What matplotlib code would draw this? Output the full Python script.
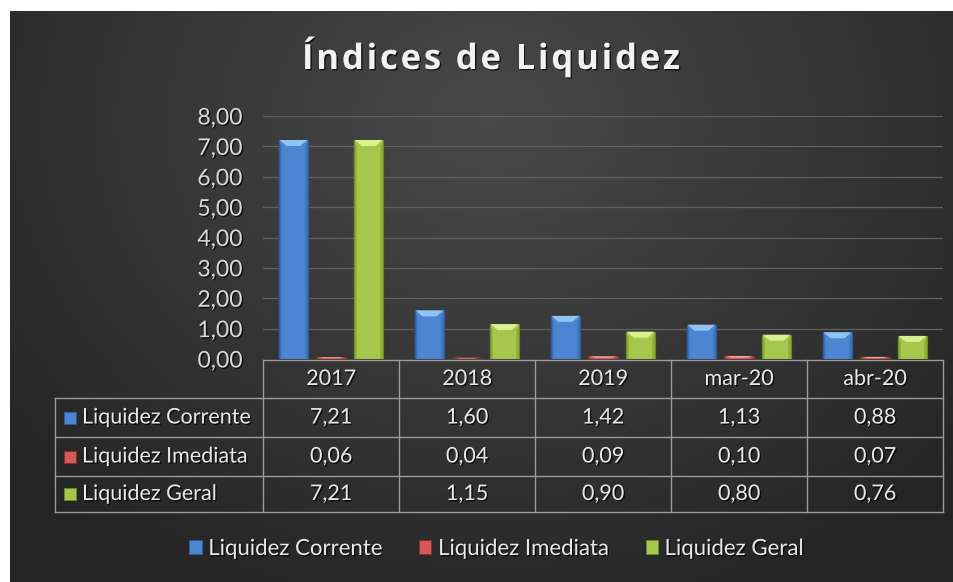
import numpy as np
import matplotlib.pyplot as plt
from matplotlib.patches import Patch, Rectangle, Polygon
from matplotlib.lines import Line2D
from matplotlib.transforms import IdentityTransform
from matplotlib.font_manager import FontProperties, findfont, get_font
import matplotlib.patheffects as pe

# dados do gráfico
periodos = ['2017', '2018', '2019', 'mar-20', 'abr-20']
series = ['Liquidez Corrente', 'Liquidez Imediata', 'Liquidez Geral']
liq_corrente = [7.21, 1.60, 1.42, 1.13, 0.88]
liq_imediata = [0.06, 0.04, 0.09, 0.10, 0.07]
liq_geral = [7.21, 1.15, 0.90, 0.80, 0.76]
yticks = [0, 1, 2, 3, 4, 5, 6, 7, 8]
titulo = 'Índices de Liquidez'

cores = ['#4d85d2', '#d45a58', '#a5c84c']
bordas = ['#2f5e9e', '#8e2a28', '#6f8c27']
brilho = ['#92c4f2', '#f0a0a0', '#d8f090']
valores = [liq_corrente, liq_imediata, liq_geral]

plt.rcParams['font.family'] = ['Lato', 'DejaVu Sans']

W, H = 954, 582
fig = plt.figure(figsize=(W / 100, H / 100), dpi=100, facecolor='white')

def fx(px):
    return px / W

def fy(py):
    return 1 - py / H

# fundo escuro com gradiente radial
bg = fig.add_axes([fx(10), 0, 1 - fx(10), fy(11)])
bg.set_axis_off()
yy, xx = np.mgrid[0:571, 0:944]
d = np.sqrt(((xx - 480) / 620.0) ** 2 + ((yy - 110) / 520.0) ** 2)
d = np.clip(d, 0, 1)
grad = 0.285 - 0.14 * d
bg.imshow(np.dstack([grad, grad, grad]), aspect='auto', interpolation='bilinear')

sombra = [pe.withSimplePatchShadow(offset=(1, -1), shadow_rgbFace='black', alpha=0.7)]

# título com espaçamento entre letras
tam_titulo = 25
fp = FontProperties(family='Open Sans', weight='bold', size=tam_titulo)
ft = get_font(findfont(fp))
ft.set_size(tam_titulo, 100)
avancos = []
for ch in titulo:
    g = ft.load_char(ord(ch))
    avancos.append(g.linearHoriAdvance / 65536)
largura_alvo = 378
esp = (largura_alvo - sum(avancos)) / (len(titulo) - 1)
px = 491 - largura_alvo / 2
for ch, a in zip(titulo, avancos):
    fig.text(fx(px), fy(60), ch, color='#f2f2f2', fontproperties=fp,
             ha='left', va='center', path_effects=sombra)
    px += a + esp

# área do gráfico
ax = fig.add_axes([fx(263), fy(359), fx(943) - fx(263), fy(116) - fy(359)])
ax.patch.set_alpha(0)
x = np.arange(len(periodos))
larg = 0.22
desloc = [-0.276, 0, 0.276]
ax.set_xlim(-0.5, len(periodos) - 0.5)
ax.set_ylim(0, 8)
grupos = []
for vals, c, b, dx in zip(valores, cores, bordas, desloc):
    grupos.append(ax.bar(x + dx, vals, larg, color=c, edgecolor=b, linewidth=0.8, zorder=3))

# bisel das barras (efeito 3D do Excel)
for barras, br, b in zip(grupos, brilho, bordas):
    for r in barras:
        (x0, y0), (x1, y1) = ax.transData.transform(
            [(r.get_x(), 0), (r.get_x() + r.get_width(), r.get_height())])
        h = y1 - y0
        bw = min(8, (x1 - x0) / 2 - 1)
        bh = min(6, h * 0.6)
        ax.add_patch(Polygon([(x0 + 1, y1), (x1 - 1, y1), (x1 - bw, y1 - bh), (x0 + bw, y1 - bh)],
                             closed=True, transform=IdentityTransform(), facecolor=br,
                             edgecolor='none', zorder=4))
        ax.add_patch(Polygon([(x0, y0), (x0 + 3, y0), (x0 + 3, y1 - bh), (x0, y1)], closed=True,
                             transform=IdentityTransform(), facecolor=b, alpha=0.5,
                             edgecolor='none', zorder=4))
        ax.add_patch(Polygon([(x1, y0), (x1 - 3, y0), (x1 - 3, y1 - bh), (x1, y1)], closed=True,
                             transform=IdentityTransform(), facecolor=b, alpha=0.5,
                             edgecolor='none', zorder=4))

ax.set_yticks(yticks)
ax.set_yticklabels([f'{v:.2f}'.replace('.', ',') for v in yticks])
ax.set_xticks([])
ax.tick_params(axis='y', length=0, pad=15, labelsize=16.5, labelcolor='#d9d9d9')
for lab in ax.get_yticklabels():
    lab.set_path_effects(sombra)
for s in ax.spines.values():
    s.set_visible(False)
for v in yticks[1:]:
    ax.axhline(v, color='#606060', lw=0.9, zorder=1)

# tabela de dados
linha = '#9a9a9a'
topo, base = 360, 512
linhas_y = [398, 437, 476, base]
esq = 55
fig.add_artist(Line2D([fx(263), fx(943)], [fy(topo), fy(topo)], color=linha, lw=1))
for py in linhas_y:
    fig.add_artist(Line2D([fx(esq), fx(943)], [fy(py), fy(py)], color=linha, lw=1))
fig.add_artist(Line2D([fx(esq), fx(esq)], [fy(398), fy(base)], color=linha, lw=1))
# linhas verticais alinhadas às categorias
for xi in np.arange(len(periodos) + 1) - 0.5:
    pxl = ax.transData.transform((xi, 0))[0]
    fig.add_artist(Line2D([pxl / W, pxl / W], [fy(topo), fy(base)], color=linha, lw=1))

txt_kw = dict(color='#e8e8e8', fontsize=15.5, va='center', path_effects=sombra)
for i, p in enumerate(periodos):
    fig.text(ax.transData.transform((i, 0))[0] / W, fy((topo + 398) / 2), p, ha='center', **txt_kw)

centros = [(398 + 437) / 2, (437 + 476) / 2, (476 + base) / 2]
for nome, vals, c, b, cy in zip(series, valores, cores, bordas, centros):
    fig.add_artist(Rectangle((fx(64), fy(cy + 6)), fx(12), 12 / H, facecolor=c,
                             edgecolor=b, lw=0.6))
    fig.text(fx(82), fy(cy), nome, ha='left', **txt_kw)
    for i, v in enumerate(vals):
        fig.text(ax.transData.transform((i, 0))[0] / W, fy(cy), f'{v:.2f}'.replace('.', ','),
                 ha='center', **txt_kw)

# legenda inferior
handles = [Patch(facecolor=c, edgecolor=b, lw=0.6) for c, b in zip(cores, bordas)]
leg = fig.legend(handles, series, loc='center', bbox_to_anchor=(fx(497), fy(549)), ncol=3,
                 frameon=False, fontsize=16, handlelength=0.55, handleheight=0.55,
                 handletextpad=0.3, columnspacing=1.6, labelcolor='#e8e8e8')
for t in leg.get_texts():
    t.set_path_effects(sombra)

fig.savefig('out.png', dpi=100, facecolor='white')
